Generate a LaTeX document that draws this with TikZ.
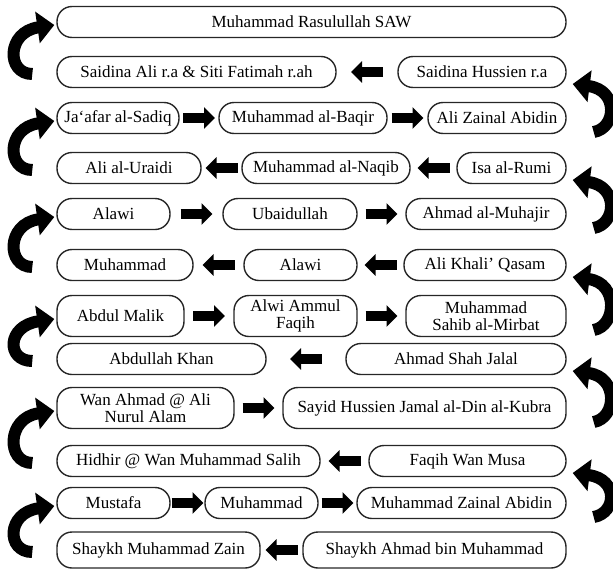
\documentclass[tikz,border=0pt]{standalone}
\usepackage{fontspec}
\setmainfont{Liberation Serif}
\usetikzlibrary{arrows.meta,calc}
\begin{document}
\begin{tikzpicture}[x=1pt,y=-1pt,
 box/.style={draw=black!85, line width=1.4pt, rounded corners=15pt, minimum height=31pt, inner sep=0pt, align=center, font=\fontsize{17}{17.5}\selectfont, text=black},
 tall/.style={minimum height=41pt},
 blk/.style={line width=10pt, -{Triangle[length=11pt,width=21pt]}},
 curl/.style={line width=12pt, -{Triangle[length=17pt,width=31pt]}}]
\useasboundingbox (0,0) rectangle (613,573);
% row 1
\node[box, minimum width=509pt] (r1) at (311.5,22) {Muhammad Rasulullah SAW};
% row 2
\node[box, minimum width=279pt] (r2a) at (196.5,72) {Saidina Ali r.a \& Siti Fatimah r.ah};
\node[box, minimum width=168pt] (r2b) at (482,72) {Saidina Hussien r.a};
% row 3
\node[box, minimum width=122pt] (r3a) at (118,118) {Ja`afar al-Sadiq};
\node[box, minimum width=168pt] (r3b) at (303,118) {Muhammad al-Baqir};
\node[box, minimum width=138pt] (r3c) at (497,118) {Ali Zainal Abidin};
% row 4
\node[box, minimum width=144pt] (r4a) at (129,168) {Ali al-Uraidi};
\node[box, minimum width=168pt] (r4b) at (326,168) {Muhammad al-Naqib};
\node[box, minimum width=109pt] (r4c) at (511.5,168) {Isa al-Rumi};
% row 5
\node[box, minimum width=113pt] (r5a) at (113.5,214) {Alawi};
\node[box, minimum width=134pt] (r5b) at (290,214) {Ubaidullah};
\node[box, minimum width=160pt] (r5c) at (486,214) {Ahmad al-Muhajir};
% row 6
\node[box, minimum width=136pt] (r6a) at (125,265) {Muhammad};
\node[box, minimum width=113pt] (r6b) at (300.5,265) {Alawi};
\node[box, minimum width=162pt] (r6c) at (485,265) {Ali Khali’ Qasam};
% row 7
\node[box, tall, minimum width=127pt] (r7a) at (120.5,316) {Abdul Malik};
\node[box, tall, minimum width=123pt] (r7b) at (295.5,316) {Alwi Ammul\\Faqih};
\node[box, tall, minimum width=160pt] (r7c) at (486,316) {Muhammad\\Sahib al-Mirbat};
% row 8
\node[box, minimum width=209pt] (r8a) at (161.5,359) {Abdullah Khan};
\node[box, minimum width=220pt] (r8b) at (456,359) {Ahmad Shah Jalal};
% row 9
\node[box, tall, minimum width=177pt] (r9a) at (145.5,408) {Wan Ahmad @ Ali\\Nurul Alam};
\node[box, tall, minimum width=283pt] (r9b) at (424.5,408) {Sayid Hussien Jamal al-Din al-Kubra};
% row 10
\node[box, minimum width=263pt] (r10a) at (188.5,461) {Hidhir @ Wan Muhammad Salih};
\node[box, minimum width=197pt] (r10b) at (467.5,461) {Faqih Wan Musa};
% row 11
\node[box, minimum width=113pt] (r11a) at (113.5,503) {Mustafa};
\node[box, minimum width=113pt] (r11b) at (261.5,503) {Muhammad};
\node[box, minimum width=209pt] (r11c) at (461.5,503) {Muhammad Zainal Abidin};
% row 12
\node[box, minimum height=36pt, minimum width=203pt] (r12a) at (158.5,550) {Shaykh Muhammad Zain};
\node[box, minimum height=36pt, minimum width=263pt] (r12b) at (434.5,550) {Shaykh Ahmad bin Muhammad};
% straight block arrows (right-pointing)
\foreach \a/\b in {r3a/r3b, r3b/r3c, r5a/r5b, r5b/r5c, r7a/r7b, r7b/r7c, r9a/r9b, r11a/r11b, r11b/r11c}
  \draw[blk] ($(\a.east)!.5!(\b.west)+(-16,0)$) -- ($(\a.east)!.5!(\b.west)+(16,0)$);
% straight block arrows (left-pointing)
\foreach \a/\b in {r2a/r2b, r4a/r4b, r4b/r4c, r6a/r6b, r6b/r6c, r8a/r8b, r10a/r10b, r12a/r12b}
  \draw[blk] ($(\a.east)!.5!(\b.west)+(16,0)$) -- ($(\a.east)!.5!(\b.west)+(-16,0)$);
% left curved arrows (lower -> upper)
\foreach \u/\l in {r1/r2a, r3a/r4a, r5a/r6a, r7a/r8a, r9a/r10a, r11a/r12a}
  \draw[curl] ($(\l.west)+(-24,2)$) .. controls ($(\l.west)+(-50,2)$) and ($(\u.west)+(-50,10)$) .. ($(\u.west)+(-2,3)$);
% right curved arrows (lower -> upper)
\foreach \u/\l in {r2b/r3c, r4c/r5c, r6c/r7c, r8b/r9b, r10b/r11c}
  \draw[curl] ($(\l.east)+(27,14)$) .. controls ($(\l.east)+(50,10)$) and ($(\u.east)+(52,18)$) .. ($(\u.east)+(6,12)$);
\end{tikzpicture}
\end{document}
